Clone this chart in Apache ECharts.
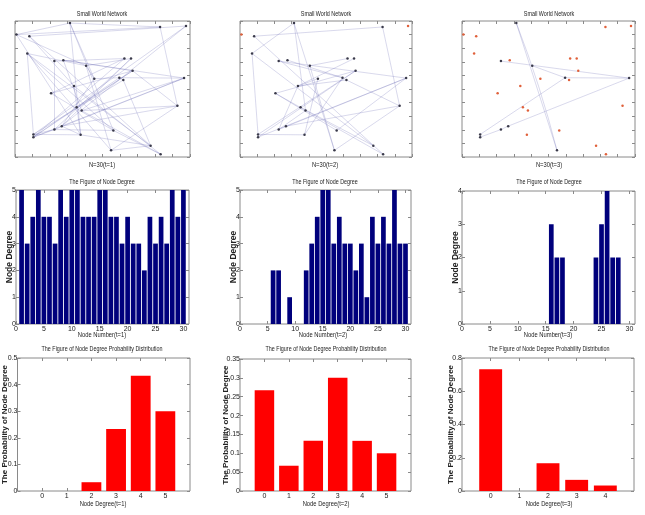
<!DOCTYPE html>
<html><head><meta charset="utf-8">
<script src="https://cdn.jsdelivr.net/npm/echarts@6/dist/echarts.min.js"></script>
<style>html,body{margin:0;padding:0;background:#fff}#c{width:645px;height:515px}</style>
</head><body><div id="c"></div>
<script>
// ---------------- data ----------------
const nodeX = [0.314,0.008,0.082,0.829,0.977,0.070,0.225,0.276,0.406,0.625,
               0.663,0.672,0.453,0.596,0.619,0.966,0.337,0.206,0.928,0.381,
               0.352,0.105,0.105,0.225,0.267,0.375,0.562,0.549,0.775,0.832];
const nodeY = [0.985,0.900,0.888,0.956,0.963,0.761,0.705,0.712,0.671,0.724,
               0.724,0.634,0.576,0.583,0.566,0.580,0.522,0.468,0.376,0.341,
               0.366,0.166,0.146,0.202,0.227,0.163,0.195,0.049,0.083,0.020];
const edgesT1 = [[1,0],[1,3],[2,4],[0,3],[4,21],[4,24],[3,18],[1,8],[1,25],[2,28],
                 [0,25],[0,12],[0,26],[5,21],[5,8],[5,27],[5,26],[5,28],[6,9],[6,23],
                 [7,15],[7,11],[7,19],[8,27],[8,10],[9,17],[9,22],[10,23],[10,24],[11,17],
                 [11,22],[11,18],[12,24],[13,22],[13,15],[14,21],[14,28],[15,22],[15,19],[15,23],
                 [16,29],[16,25],[17,26],[18,27],[18,24],[18,19],[20,11],[21,25],[21,23],[22,23],
                 [23,26],[24,25],[25,28],[26,29],[27,28],[12,13],[14,13],[8,12],[19,29],[2,16]];
const edgesT2 = [[2,3],[3,18],[0,5],[0,27],[0,19],[5,21],[5,28],[2,29],[6,15],[6,13],
                 [11,21],[22,15],[21,25],[17,26],[17,29],[16,12],[14,18],[27,18],[23,15],[24,18],
                 [8,27],[12,25],[20,28],[16,23],[19,23],[26,15],[13,25],[17,11],[22,11],[14,16],
                 [10,16],[9,8],[7,13]];
const edgesT3 = [[0,27],[0,27],[6,15],[8,13],[13,15],[21,13],[21,22],[22,23],[23,24],[24,15]];

const nodeNumbers = [1,2,3,4,5,6,7,8,9,10,11,12,13,14,15,16,17,18,19,20,21,22,23,24,25,26,27,28,29,30];
const degreeT1 = [5,3,4,5,4,4,3,5,4,5,5,4,4,4,5,5,4,4,3,4,3,3,2,4,3,4,3,5,4,5];
const degreeT2 = [0,0,0,0,0,2,2,0,1,0,0,2,3,4,5,5,3,4,3,3,2,3,1,4,3,4,3,5,3,3];
const degreeT3 = [0,0,0,0,0,0,0,0,0,0,0,0,0,0,0,3,2,2,0,0,0,0,0,2,3,4,2,2,0,0];

const degreeClassesT12 = [0,1,2,3,4,5];
const degreeClassesT3 = [0,1,2,3,4];
const probT1 = [0,0,0.033,0.233,0.433,0.3];
const probT2 = [0.267,0.067,0.133,0.3,0.133,0.1];
const probT3 = [0.733,0,0.167,0.067,0.033];

const netTicks = [0,0.1,0.2,0.3,0.4,0.5,0.6,0.7,0.8,0.9,1];
const nodeNumberTicks = [0,5,10,15,20,25,30];
const degreeTicks5 = [0,1,2,3,4,5];
const degreeTicks4 = [0,1,2,3,4];
const probTicksT1 = [0,0.1,0.2,0.3,0.4,0.5];
const probTicksT2 = [0,0.05,0.1,0.15,0.2,0.25,0.3,0.35];
const probTicksT3 = [0,0.2,0.4,0.6,0.8];

// ---------------- layout / style ----------------
const SANS = "'Liberation Sans',Arial,sans-serif";
const AX = '#8a8a8a';
const TXT = '#222';
const grids = [
  [15,21,175,136],[240,21,172,136],[462,21,173,136],
  [16,190,173,134],[240,190,171,134],[462,191,173,133],
  [17,358,173,133],[240,359,171,132],[462,358,172,133]
];

const xAxes = [], yAxes = [];
function addAxes(gi, c){
  const mk = (dim, pos, min, max, ticks, showLab) => ({
    type:'value', gridIndex:gi, position:pos, min:min, max:max,
    axisLine:{show:false, onZero:false}, splitLine:{show:false},
    axisTick:{show:true, inside:true, length:3, lineStyle:{color:AX, width:1}, customValues:ticks},
    axisLabel:{show:showLab, customValues:ticks, fontSize:7, color:TXT, margin: dim==='y' ? 0 : 2, fontFamily:SANS}
  });
  const xb = mk('x','bottom',c.xMin,c.xMax,c.xTicks,c.xLab);
  const xt = mk('x','top',c.xMin,c.xMax,c.xTicks,false);
  const yl = mk('y','left',c.yMin,c.yMax,c.yTicks,c.yLab);
  if (c.yName){
    yl.name = c.yName; yl.nameLocation='middle'; yl.nameGap=c.yGap; yl.nameMoveOverlap=false;
    yl.nameTextStyle = {fontSize:c.yNameSize, fontWeight:'bold', color:TXT, fontFamily:SANS};
  }
  const yr = mk('y','right',c.yMin,c.yMax,c.yTicks,false);
  xAxes.push(xb, xt); yAxes.push(yl, yr);
  return [xAxes.length-2, yAxes.length-2];
}

const series = [];
function networkPanel(gi, edges){
  const [xi, yi] = addAxes(gi, {xMin:0,xMax:1,xTicks:netTicks,xLab:false,
                                yMin:0,yMax:1,yTicks:netTicks,yLab:false});
  const deg = nodeX.map(()=>0);
  edges.forEach(([s,t])=>{deg[s]++;deg[t]++;});
  const seen = {};
  series.push({
    type:'graph', coordinateSystem:'cartesian2d', xAxisIndex:xi, yAxisIndex:yi,
    silent:true, animation:false, symbol:'circle', symbolSize:2.5,
    data: nodeX.map((x,i)=>({value:[x,nodeY[i]], itemStyle:{color: deg[i] ? '#3a3a4a' : '#e0603a'}})),
    links: edges.map(([s,t])=>{
      const k = s+'-'+t; const dup = seen[k]; seen[k]=true;
      return {source:s, target:t, lineStyle: dup ? {curveness:0.03} : {}};
    }),
    lineStyle:{color:'rgba(100,100,175,0.55)', width:0.9, curveness:0},
    label:{show:false}, emphasis:{disabled:true}
  });
}
function barPanel(gi, cfg){
  const [xi, yi] = addAxes(gi, cfg);
  series.push({
    type:'bar', xAxisIndex:xi, yAxisIndex:yi, silent:true, animation:false,
    barWidth:cfg.barW, itemStyle:{color:cfg.color},
    data: cfg.xs.map((x,i)=>[x, cfg.ys[i]])
  });
}

networkPanel(0, edgesT1);
networkPanel(1, edgesT2);
networkPanel(2, edgesT3);

const midCommon = {xMin:0,xMax:31,xTicks:nodeNumberTicks,xLab:true,yMin:0,yLab:true,
                   yName:'Node Degree',yNameSize:8.5,yGap:2,barW:4.7,color:'#00007c'};
barPanel(3, Object.assign({}, midCommon, {yMax:5, yTicks:degreeTicks5, xs:nodeNumbers, ys:degreeT1}));
barPanel(4, Object.assign({}, midCommon, {yMax:5, yTicks:degreeTicks5, xs:nodeNumbers, ys:degreeT2}));
barPanel(5, Object.assign({}, midCommon, {yMax:4, yTicks:degreeTicks4, xs:nodeNumbers, ys:degreeT3}));

const botCommon = {xLab:true,yMin:0,yLab:true,yName:'The Probability of Node Degree',yNameSize:8,color:'#ff0000'};
barPanel(6, Object.assign({}, botCommon, {xMin:-1,xMax:6,xTicks:degreeTicks5,yMax:0.5,yTicks:probTicksT1,yGap:8.5,barW:19.8,xs:degreeClassesT12,ys:probT1}));
barPanel(7, Object.assign({}, botCommon, {xMin:-1,xMax:6,xTicks:degreeTicks5,yMax:0.35,yTicks:probTicksT2,yGap:10,barW:19.5,xs:degreeClassesT12,ys:probT2}));
barPanel(8, Object.assign({}, botCommon, {xMin:-1,xMax:5,xTicks:degreeTicks4,yMax:0.8,yTicks:probTicksT3,yGap:7,barW:22.9,xs:degreeClassesT3,ys:probT3}));

// narrow-looking texts: [text, x, y, fontSize]
const texts = [
  ['Small World Network',102,14,6.5],['Small World Network',326,14,6.5],['Small World Network',549,14,6.5],
  ['N=30(t=1)',102,165.5,7],['N=30(t=2)',325,165.5,7],['N=30(t=3)',549,165.5,7],
  ['The Figure of Node Degree',102,182,6.5],['The Figure of Node Degree',325,182,6.5],['The Figure of Node Degree',549,182,6.5],
  ['Node Number(t=1)',102,335.5,7],['Node Number(t=2)',323,335.5,7],['Node Number(t=3)',548,335.5,7],
  ['The Figure of Node Degree Probability Distribution',102,349,6.5],
  ['The Figure of Node Degree Probability Distribution',326,349,6.5],
  ['The Figure of Node Degree Probability Distribution',549,349,6.5],
  ['Node Degree(t=1)',103,504.5,7],['Node Degree(t=2)',326,504.5,7],['Node Degree(t=3)',549,504.5,7]
];

const chart = echarts.init(document.getElementById('c'), null, {renderer:'canvas'});
chart.setOption({
  animation:false,
  backgroundColor:'#fff',
  grid: grids.map(g=>({left:g[0],top:g[1],width:g[2],height:g[3],show:true,borderColor:AX,borderWidth:1,backgroundColor:'transparent',containLabel:false})),
  xAxis: xAxes, yAxis: yAxes, series: series,
  graphic: texts.map(t=>({type:'text', x:t[1], y:t[2], scaleX:0.83, silent:true,
    style:{text:t[0], fontSize:t[3], fontFamily:SANS, fill:TXT, align:'center', verticalAlign:'middle'}}))
});
</script></body></html>
